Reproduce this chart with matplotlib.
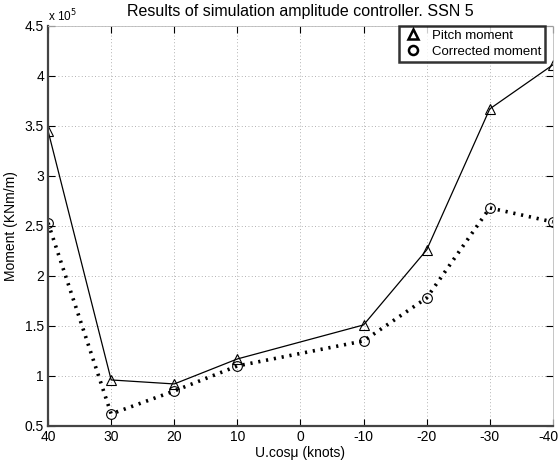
import matplotlib
matplotlib.use("Agg")
import matplotlib.pyplot as plt
import matplotlib.transforms as mtransforms
from matplotlib.ticker import FuncFormatter
from matplotlib.lines import Line2D

plt.rcParams['font.family'] = ['Liberation Sans', 'DejaVu Sans']

speed = [40, 30, 20, 10, -10, -20, -30, -40]
pitch_moment = [3.45, 0.96, 0.92, 1.17, 1.51, 2.26, 3.67, 4.11]      # x 1e5
corrected_moment = [2.53, 0.62, 0.85, 1.10, 1.35, 1.78, 2.68, 2.54]  # x 1e5
xticks = [40, 30, 20, 10, 0, -10, -20, -30, -40]
yticks = [0.5, 1, 1.5, 2, 2.5, 3, 3.5, 4, 4.5]

fig = plt.figure(figsize=(5.59, 4.62), dpi=100)
ax = fig.add_axes([0.086, 0.078, 0.903, 0.866])

ax.plot(speed, pitch_moment, color='black', lw=0.9, marker='^', ms=7,
        mfc='none', mec='black', mew=0.8, label='Pitch moment')
ax.plot(speed, corrected_moment, color='black', lw=2.6, ls=(0, (0.6, 1.6)),
        marker='o', ms=7, mfc='none', mec='black', mew=0.8, label='Corrected moment')

ax.set_xlim(40, -40)
ax.set_ylim(0.5, 4.5)
ax.set_xticks(xticks)
ax.set_yticks(yticks)
ax.yaxis.set_major_formatter(FuncFormatter(lambda v, p: f"{v:g}"))
ax.xaxis.set_major_formatter(FuncFormatter(lambda v, p: f"{v:g}"))
ax.tick_params(direction='in', length=5, labelsize=10, top=True, right=True, width=0.8, pad=3)
ax.grid(True, ls=(0, (1, 3)), color='#999999', lw=0.6)

for s in ['left', 'bottom']:
    ax.spines[s].set_linewidth(1.6)
    ax.spines[s].set_color('#444444')
for s in ['top', 'right']:
    ax.spines[s].set_linewidth(0.6)
    ax.spines[s].set_color('#bbbbbb')

ax.set_title('Results of simulation amplitude controller. SSN 5', fontsize=11.5, pad=7)
ax.set_xlabel('U.cos\u03bc (knots)', fontsize=10, labelpad=1)
ax.set_ylabel('Moment (KNm/m)', fontsize=10, labelpad=5)
ax.text(0.0, 1.004, 'x 10$^5$', transform=ax.transAxes, fontsize=8.5, ha='left', va='bottom')

# nudge the last x tick label so it stays inside the figure
fig.canvas.draw()
last = ax.get_xticklabels()[-1]
last.set_transform(last.get_transform() + mtransforms.ScaledTranslation(-4 / 100, 0, fig.dpi_scale_trans))

handles = [Line2D([], [], ls='none', marker='^', ms=6.5, mfc='none', mec='black', mew=1.8),
           Line2D([], [], ls='none', marker='o', ms=6.5, mfc='none', mec='black', mew=1.8)]
leg = ax.legend(handles, ['Pitch moment', 'Corrected moment'], loc='upper right',
                fontsize=9.5, frameon=True, fancybox=False, borderpad=0.3,
                handletextpad=0.6, labelspacing=0.25, handlelength=1.6,
                borderaxespad=0, bbox_to_anchor=(0.985, 1.0))
leg.get_frame().set_edgecolor('black')
leg.get_frame().set_linewidth(1.8)

fig.savefig('out.png', dpi=100)
